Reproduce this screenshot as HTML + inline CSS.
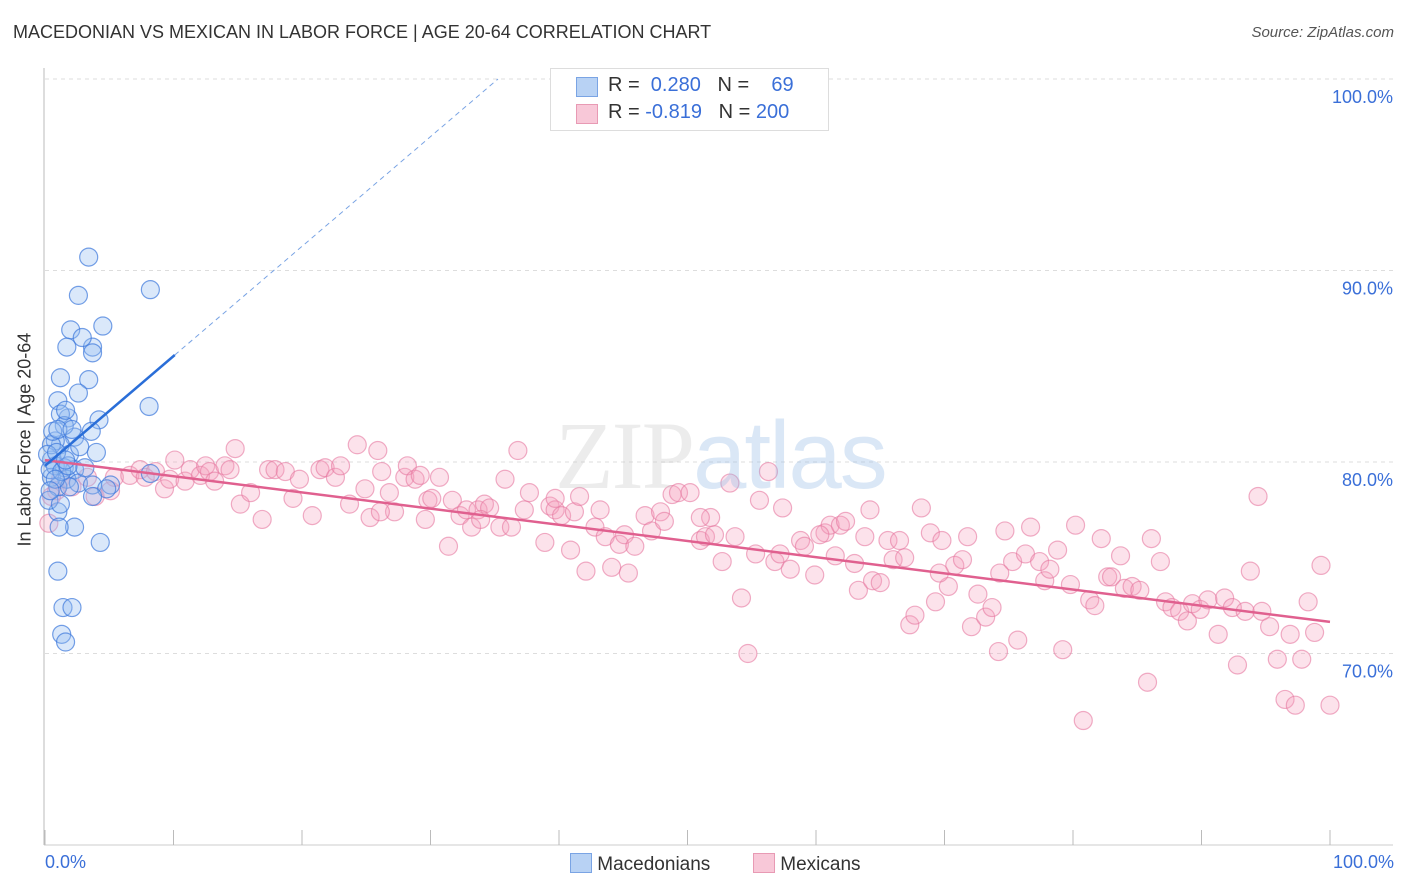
<!DOCTYPE html>
<html><head><meta charset="utf-8"><style>
body{margin:0;background:#fff;font-family:"Liberation Sans",sans-serif}
#wrap{position:relative;width:1406px;height:892px}
.t{position:absolute;white-space:nowrap}
</style></head><body>
<div id="wrap">
<div class="t" style="left:13px;top:22px;font-size:18px;color:#333">MACEDONIAN VS MEXICAN IN LABOR FORCE | AGE 20-64 CORRELATION CHART</div>
<div class="t" style="right:12px;top:24px;font-size:15px;color:#555;font-style:italic">Source: ZipAtlas.com</div>
<svg id="svg" width="1406" height="892" style="position:absolute;left:0;top:0"></svg>
</div>
<script>
const xTicks=[0,10,20,30,40,50,60,70,80,90,100];
const yTicks=[70,80,90,100];
const blueX=[3.4,8.2,2.6,2.0,4.5,3.7,2.9,1.7,3.7,1.2,3.4,2.6,8.1,1.0,4.2,1.8,1.2,3.6,2.3,1.5,1.2,0.8,0.5,1.9,4.0,5.1,8.2,1.5,2.3,0.5,0.8,0.4,1.7,2.6,1.0,1.9,3.7,4.8,3.7,1.0,2.3,1.1,4.3,1.0,1.4,2.1,1.3,1.6,0.5,0.6,1.0,1.3,1.8,3.1,0.3,0.8,1.2,0.2,0.9,1.6,2.7,2.1,1.6,0.4];
const blueY=[90.7,89.0,88.7,86.9,87.1,86.0,86.5,86.0,85.7,84.4,84.3,83.6,82.9,83.2,82.2,82.3,82.5,81.6,81.3,81.9,80.9,81.1,80.1,80.4,80.5,78.8,79.4,79.7,79.6,79.2,79.8,79.6,79.1,78.9,78.7,78.7,78.8,78.6,78.2,77.4,76.6,76.6,75.8,74.3,72.4,72.4,71.0,70.6,80.9,81.6,81.7,79.5,79.8,79.7,78.0,79.1,77.8,80.4,80.5,80.1,80.8,81.7,82.7,78.5];
const pinkX=[0.9,1.2,2.1,3.3,3.9,5.1,5.4,6.6,7.4,7.8,8.6,9.3,9.7,10.1,10.9,11.3,12.1,12.5,12.8,13.2,14.0,14.4,14.8,15.2,16.0,16.9,17.4,17.9,18.7,19.3,19.8,20.8,21.4,21.8,22.6,23.0,23.7,24.3,24.9,25.3,25.9,26.2,26.8,27.2,28.0,28.2,28.8,29.2,29.8,30.1,30.7,31.4,31.7,32.3,32.8,33.2,33.7,34.2,34.6,35.4,35.8,36.3,36.8,37.3,37.7,38.9,39.3,39.7,40.2,40.9,41.2,41.6,42.1,42.8,43.6,44.1,44.7,45.1,45.4,45.9,46.7,47.2,47.9,48.2,48.8,49.3,50.2,51.0,51.4,51.8,52.1,52.7,53.3,53.7,54.2,54.7,55.3,55.6,56.3,56.8,57.2,57.4,58.0,58.8,59.1,59.9,60.7,61.1,61.5,61.9,62.3,63.0,63.3,63.8,64.4,65.0,65.6,66.0,66.5,66.9,67.3,67.7,68.2,68.9,69.3,69.8,70.3,70.8,71.4,71.8,72.1,72.6,73.2,73.7,74.2,74.7,75.3,75.7,76.3,76.7,77.4,77.8,78.2,78.8,79.2,79.8,80.2,80.8,81.3,81.7,82.2,82.7,83.0,83.7,84.0,84.6,85.2,85.8,86.1,86.8,87.2,87.7,88.3,88.9,89.3,89.9,90.5,91.3,91.8,92.4,92.8,93.4,93.8,94.4,94.7,95.3,95.9,96.5,96.9,97.3,97.8,98.3,98.8,99.3,100.0,74.3,69.6,64.2,60.3,51.0,43.2,39.7,33.9,29.6,26.1,0.3,0.5];
const pinkY=[78.5,79.1,78.7,79.2,78.2,78.5,79.2,79.3,79.6,79.2,79.5,78.6,79.1,80.1,79.0,79.6,79.3,79.8,79.5,79.0,79.8,79.6,80.7,77.8,78.4,77.0,79.6,79.6,79.5,78.1,79.1,77.2,79.6,79.7,79.2,79.8,77.8,80.9,78.6,77.1,80.6,79.5,78.4,77.4,79.2,79.8,79.1,79.3,78.0,78.1,79.2,75.6,78.0,77.2,77.5,76.6,77.5,77.8,77.6,76.6,79.1,76.6,80.6,77.5,78.4,75.8,77.7,77.5,77.2,75.4,77.4,78.2,74.3,76.6,76.1,74.5,75.7,76.2,74.2,75.6,77.2,76.4,77.4,76.9,78.3,78.4,78.4,75.9,76.1,77.1,76.2,74.8,78.9,76.1,72.9,70.0,75.2,78.0,79.5,74.8,75.2,77.6,74.4,75.9,75.6,74.1,76.3,76.7,75.1,76.7,76.9,74.7,73.3,76.1,73.8,73.7,75.9,74.9,75.9,75.0,71.5,72.0,77.6,76.3,72.7,75.9,73.5,74.6,74.9,76.1,71.4,73.1,71.9,72.4,70.1,76.4,74.8,70.7,75.2,76.6,74.8,73.8,74.4,75.4,70.2,73.6,76.7,66.5,72.8,72.5,76.0,74.0,74.0,75.1,73.4,73.5,73.3,68.5,76.0,74.8,72.7,72.4,72.2,71.7,72.6,72.3,72.8,71.0,72.9,72.4,69.4,72.2,74.3,78.2,72.2,71.4,69.7,67.6,71.0,67.3,69.7,72.7,71.1,74.6,67.3,74.2,74.2,77.5,76.2,77.1,77.5,78.1,77.0,77.0,77.4,76.8,78.2];
const blueTrend=[79.8,0.573];
const pinkTrend=[80.1,-0.0845];
const X=v=>45+v*12.85, Y=v=>462-(v-80)*19.15;
const svg=document.getElementById('svg'),NS='http://www.w3.org/2000/svg';
function mk(t,a,name){const e=document.createElementNS(NS,t);for(const k in a)e.setAttribute(k,a[k]);


svg.appendChild(e);return e;}
yTicks.forEach(v=>{mk('line',{x1:45,x2:1393,y1:Y(v),y2:Y(v),stroke:'#ddd','stroke-dasharray':'4,4'},'y-gridline');
const t=mk('text',{x:1393,y:Y(v)+24,'text-anchor':'end','font-size':18,fill:'#3a6fd8'},'y-tick-label');t.textContent=v.toFixed(1)+'%';});
mk('line',{x1:44,x2:44,y1:68,y2:845,stroke:'#bbb'},'y-axis');
mk('line',{x1:44,x2:1393,y1:845,y2:845,stroke:'#ccc'},'x-axis');
xTicks.forEach(v=>mk('line',{x1:X(v),x2:X(v),y1:830,y2:845,stroke:'#bbb'},'x-tick'));
pinkX.forEach((x,i)=>mk('circle',{cx:X(x),cy:Y(pinkY[i]),r:9,fill:'rgba(245,160,190,0.3)',stroke:'rgba(230,120,160,0.6)','stroke-width':1.2},'mexican-point'));
blueX.forEach((x,i)=>mk('circle',{cx:X(x),cy:Y(blueY[i]),r:9,fill:'rgba(150,190,240,0.35)',stroke:'rgba(60,120,220,0.7)','stroke-width':1.2},'macedonian-point'));
mk('line',{x1:X(0),y1:Y(pinkTrend[0]),x2:X(100),y2:Y(pinkTrend[0]+100*pinkTrend[1]),stroke:'#e0608f','stroke-width':2.5},'mexican-trendline');
mk('line',{x1:X(0),y1:Y(blueTrend[0]),x2:X(10.1),y2:Y(blueTrend[0]+10.1*blueTrend[1]),stroke:'#2a6ed8','stroke-width':2.5},'macedonian-trendline');
const xe=(100-blueTrend[0])/blueTrend[1];
mk('line',{x1:X(10.1),y1:Y(blueTrend[0]+10.1*blueTrend[1]),x2:X(xe),y2:Y(100),stroke:'#7aa4e4','stroke-width':1,'stroke-dasharray':'5,4'},'macedonian-trend-extension');
</script>
<div class="t" style="left:555px;top:400px;font-size:96px;color:rgba(200,200,200,0.35);font-family:'Liberation Serif',serif;letter-spacing:-2px">ZIP<span style="font-family:'Liberation Sans';color:rgba(150,185,230,0.35)">atlas</span></div>
<div class="t" style="left:-65px;top:446px;transform:rotate(-90deg);font-size:18px;color:#333;width:180px;text-align:center">In Labor Force | Age 20-64</div>
<div class="t" style="left:45px;top:852px;font-size:18px;color:#3a6fd8">0.0%</div>
<div class="t" style="right:12px;top:852px;font-size:18px;color:#3a6fd8">100.0%</div>
<div style="position:absolute;left:550px;top:68px;width:277px;height:61px;border:1px solid #ddd;background:#fff;font-size:20px;color:#333">
<div style="position:absolute;left:25px;top:8px;width:20px;height:18px;background:#b8d2f4;border:1px solid #7aa4e4"></div>
<div class="t" style="left:57px;top:5px">R = <span style="color:#3a6fd8">&nbsp;0.280</span>&nbsp;&nbsp;&nbsp;N = <span style="color:#3a6fd8">&nbsp;&nbsp;&nbsp;69</span></div>
<div style="position:absolute;left:25px;top:35px;width:20px;height:18px;background:#f8c8d8;border:1px solid #e89ab4"></div>
<div class="t" style="left:57px;top:32px">R = <span style="color:#3a6fd8">-0.819</span>&nbsp;&nbsp;&nbsp;N = <span style="color:#3a6fd8">200</span></div>
</div>
<div style="position:absolute;left:570px;top:853px;font-size:19px;color:#333">
<span style="display:inline-block;width:20px;height:18px;background:#b8d2f4;border:1px solid #7aa4e4;vertical-align:-3px"></span>&nbsp;Macedonians</div>
<div style="position:absolute;left:753px;top:853px;font-size:19px;color:#333">
<span style="display:inline-block;width:20px;height:18px;background:#f8c8d8;border:1px solid #e89ab4;vertical-align:-3px"></span>&nbsp;Mexicans</div>
</body></html>
